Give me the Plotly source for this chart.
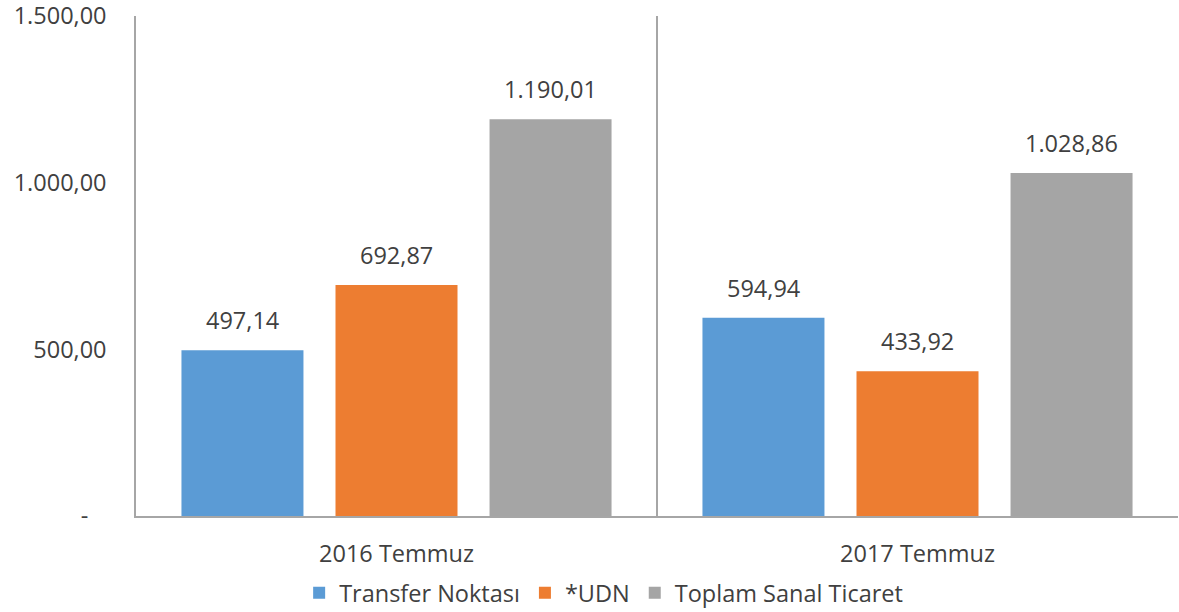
import plotly.graph_objects as go

categories = ["2016 Temmuz", "2017 Temmuz"]
series_names = ["Transfer Noktası", "*UDN", "Toplam Sanal Ticaret"]
transfer = [497.14, 594.94]
udn = [692.87, 433.92]
toplam = [1190.01, 1028.86]
colors = ["#5B9BD5", "#ED7D31", "#A5A5A5"]
y_tickvals = [0, 500, 1000, 1500]
y_ticktext = ["-\u00a0\u00a0\u00a0", "500,00", "1.000,00", "1.500,00"]

FONT = "Open Sans"
FS = 23.5
TXT = "#404040"
BARGAP = 0.113
GROUPGAP = 0.208

fig = go.Figure()
all_series = [transfer, udn, toplam]
for name, vals, col in zip(series_names, all_series, colors):
    fig.add_trace(go.Bar(
        x=categories, y=vals, name=name,
        marker=dict(color=col, line=dict(width=0)),
    ))

# value labels above bars (positioned via the category axis and bar slot width)
slot = (1 - BARGAP) / len(all_series)
for i, vals in enumerate(all_series):
    for j, v in enumerate(vals):
        fig.add_annotation(
            x=j + (i - 1) * slot, y=v, xref="x", yref="y",
            text=f"{v:,.2f}".replace(",", "X").replace(".", ",").replace("X", "."),
            showarrow=False, yanchor="bottom", yshift=12,
            font=dict(family=FONT, size=FS, color=TXT),
        )

fig.update_layout(
    width=1179, height=612,
    margin=dict(l=136, r=1, t=16, b=96),
    paper_bgcolor="white", plot_bgcolor="white",
    separators=",.",
    barmode="group", bargap=BARGAP, bargroupgap=GROUPGAP,
    font=dict(family=FONT, size=FS, color=TXT),
    showlegend=True,
    legend=dict(orientation="h", xref="container", yref="container",
                x=0.512, xanchor="center", y=0.031, yanchor="middle",
                font=dict(family=FONT, size=FS, color=TXT),
                itemwidth=30, tracegroupgap=0),
    xaxis=dict(type="category", tickson="boundaries", showgrid=True,
               gridcolor="#A6A6A6", gridwidth=1.5, showline=True,
               linecolor="#A6A6A6", linewidth=1.5, ticks="", automargin=False,
               ticklabelstandoff=16, tickfont=dict(family=FONT, size=FS, color=TXT)),
    yaxis=dict(range=[0, 1500], tickvals=y_tickvals, ticktext=y_ticktext,
               showgrid=False, zeroline=False, showline=True, automargin=False,
               linecolor="#A6A6A6", linewidth=1.5, ticks="", ticklabeloverflow="allow",
               ticklabelstandoff=23, tickfont=dict(family=FONT, size=FS, color=TXT)),
)

fig.write_html("out.html", config={"displayModeBar": False},
               post_script="document.body.style.margin='0';")
